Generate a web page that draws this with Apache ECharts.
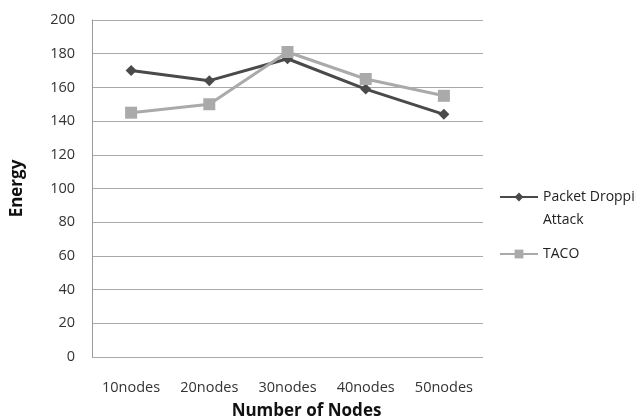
<!DOCTYPE html>
<html><head><meta charset="utf-8">
<script src="https://cdn.jsdelivr.net/npm/echarts@6/dist/echarts.min.js"></script>
<style>html,body{margin:0;padding:0;background:#fff}#c{width:636px;height:418px}</style>
</head><body><div id="c"></div>
<script>
const categories = ['10nodes','20nodes','30nodes','40nodes','50nodes'];
const packetDrop = [170, 164, 177, 159, 144];
const taco = [145, 150, 181, 165, 155];
const seriesNames = ['Packet Dropping Attack', 'TACO'];
const yTicks = {min: 0, max: 200, interval: 20};

const font = '"Open Sans", "Liberation Sans", sans-serif';
const legendText = {fontFamily: font, fontSize: 14, color: '#222'};
const chart = echarts.init(document.getElementById('c'), null, {renderer: 'canvas'});
chart.setOption({
  animation: false,
  backgroundColor: '#fff',
  grid: {left: 92, right: 153, top: 20, bottom: 61, containLabel: false, outerBoundsMode: 'none'},
  xAxis: {
    type: 'category', data: categories,
    axisLine: {show: false}, axisTick: {show: false},
    axisLabel: {color: '#333', fontFamily: font, fontSize: 14.5, margin: 23},
    name: 'Number of Nodes', nameLocation: 'middle', nameGap: 46,
    nameTextStyle: {fontFamily: font, fontWeight: 'bold', fontSize: 17, color: '#111', padding: [0, 0, 0, 38]}
  },
  yAxis: {
    type: 'value', min: yTicks.min, max: yTicks.max, interval: yTicks.interval,
    axisLine: {show: true, lineStyle: {color: '#999', width: 1}}, axisTick: {show: false},
    splitLine: {lineStyle: {color: '#aaa', width: 1}},
    axisLabel: {color: '#333', fontFamily: font, fontSize: 14.5, margin: 17},
    name: 'Energy', nameLocation: 'middle', nameGap: 66, nameRotate: 90,
    nameTextStyle: {fontFamily: font, fontWeight: 'bold', fontSize: 17, color: '#111'}
  },
  legend: [
    {left: 499, top: 190, itemWidth: 38, itemHeight: 11, data: [seriesNames[0]],
     formatter: () => 'Packet Dropping', textStyle: legendText, padding: 0},
    {left: 499, top: 247, itemWidth: 38, itemHeight: 11, data: [seriesNames[1]],
     textStyle: legendText, padding: 0}
  ],
  graphic: [{type: 'text', left: 543, top: 213,
    style: {text: 'Attack', font: '14px ' + font, fill: '#222'}}],
  series: [
    {name: seriesNames[0], type: 'line', data: packetDrop, symbol: 'diamond', symbolSize: 11,
     lineStyle: {color: '#4a4a4a', width: 3}, itemStyle: {color: '#4a4a4a'}},
    {name: seriesNames[1], type: 'line', data: taco, symbol: 'rect', symbolSize: 12,
     lineStyle: {color: '#aaaaaa', width: 3}, itemStyle: {color: '#aaaaaa'}}
  ]
});
</script></body></html>
